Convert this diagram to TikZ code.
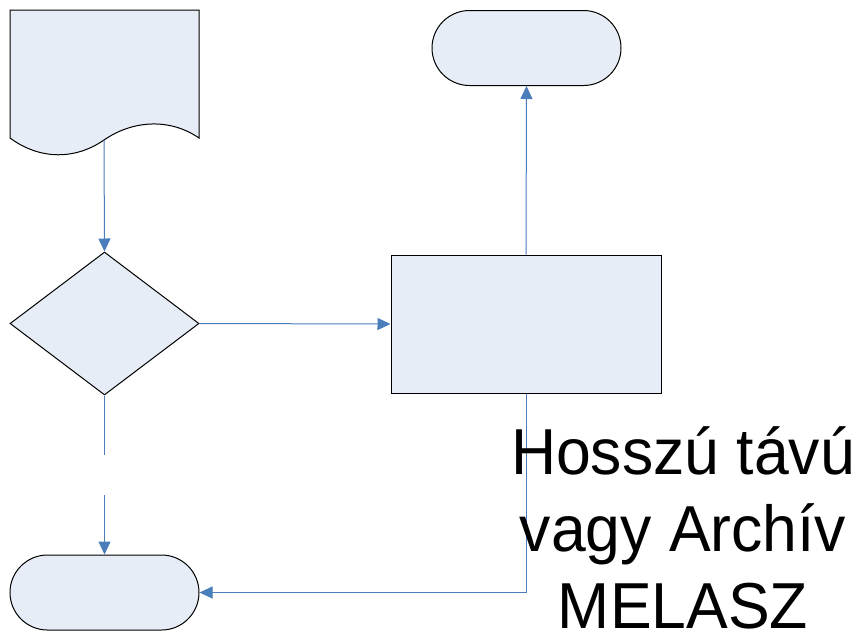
\documentclass[tikz,border=0pt]{standalone}
\usepackage{fontspec}
\setmainfont{Liberation Sans}
\usepackage{tikz}
\usetikzlibrary{arrows.meta,shapes.geometric,shapes.misc}
\definecolor{boxfill}{HTML}{E7EDF7}
\definecolor{flowblue}{HTML}{4A7EBB}

\begin{document}
\begin{tikzpicture}[x=1pt, y=-1pt, line width=1pt,
		box/.style = {draw, fill=boxfill, inner sep=0pt},
		term/.style = {box, rounded rectangle, minimum width=189pt, minimum height=75pt},
		flow/.style = {draw=flowblue, -{Triangle[length=13pt,width=12pt]}},
		link/.style = {draw=flowblue}]
		\useasboundingbox (0,0) rectangle (861,633);
		
		% document shape with wavy bottom
		\draw[fill=boxfill] (10,10) -- (10,138) .. controls (40,160) and (75,160) .. (104,140)
			.. controls (133,120) and (170,118) .. (199,138) -- (199,10) -- cycle;
		\coordinate (doc) at (104,140);
		
		\node[box, diamond, minimum width=189pt, minimum height=143pt] (dec) at (104.5,323.5) {};
		\node[box, minimum width=270pt, minimum height=138pt] (proc) at (526,324) {};
		\node[term] (endT) at (526.5,48) {};
		\node[term] (endL) at (104.5,592.5) {};
		\coordinate (gapA) at (104.5,455);
		\coordinate (gapB) at (104.5,495);
		
		\draw[flow] (doc) -- (dec.north);
		\draw[flow] (dec.east) -- (proc.west);
		\draw[flow] (proc.north) -- (endT.south);
		\draw[link] (dec.south) -- (gapA);
		\draw[flow] (gapB) -- (endL.north);
		\draw[flow] (proc.south) |- (endL.east);
		
		\node[font=\fontsize{62.5}{74}\selectfont, align=center, anchor=base, yscale=1.04] (note) at (683,628)
			{Hosszú távú\\vagy Archív\\MELASZ};
	\end{tikzpicture}
\end{document}
